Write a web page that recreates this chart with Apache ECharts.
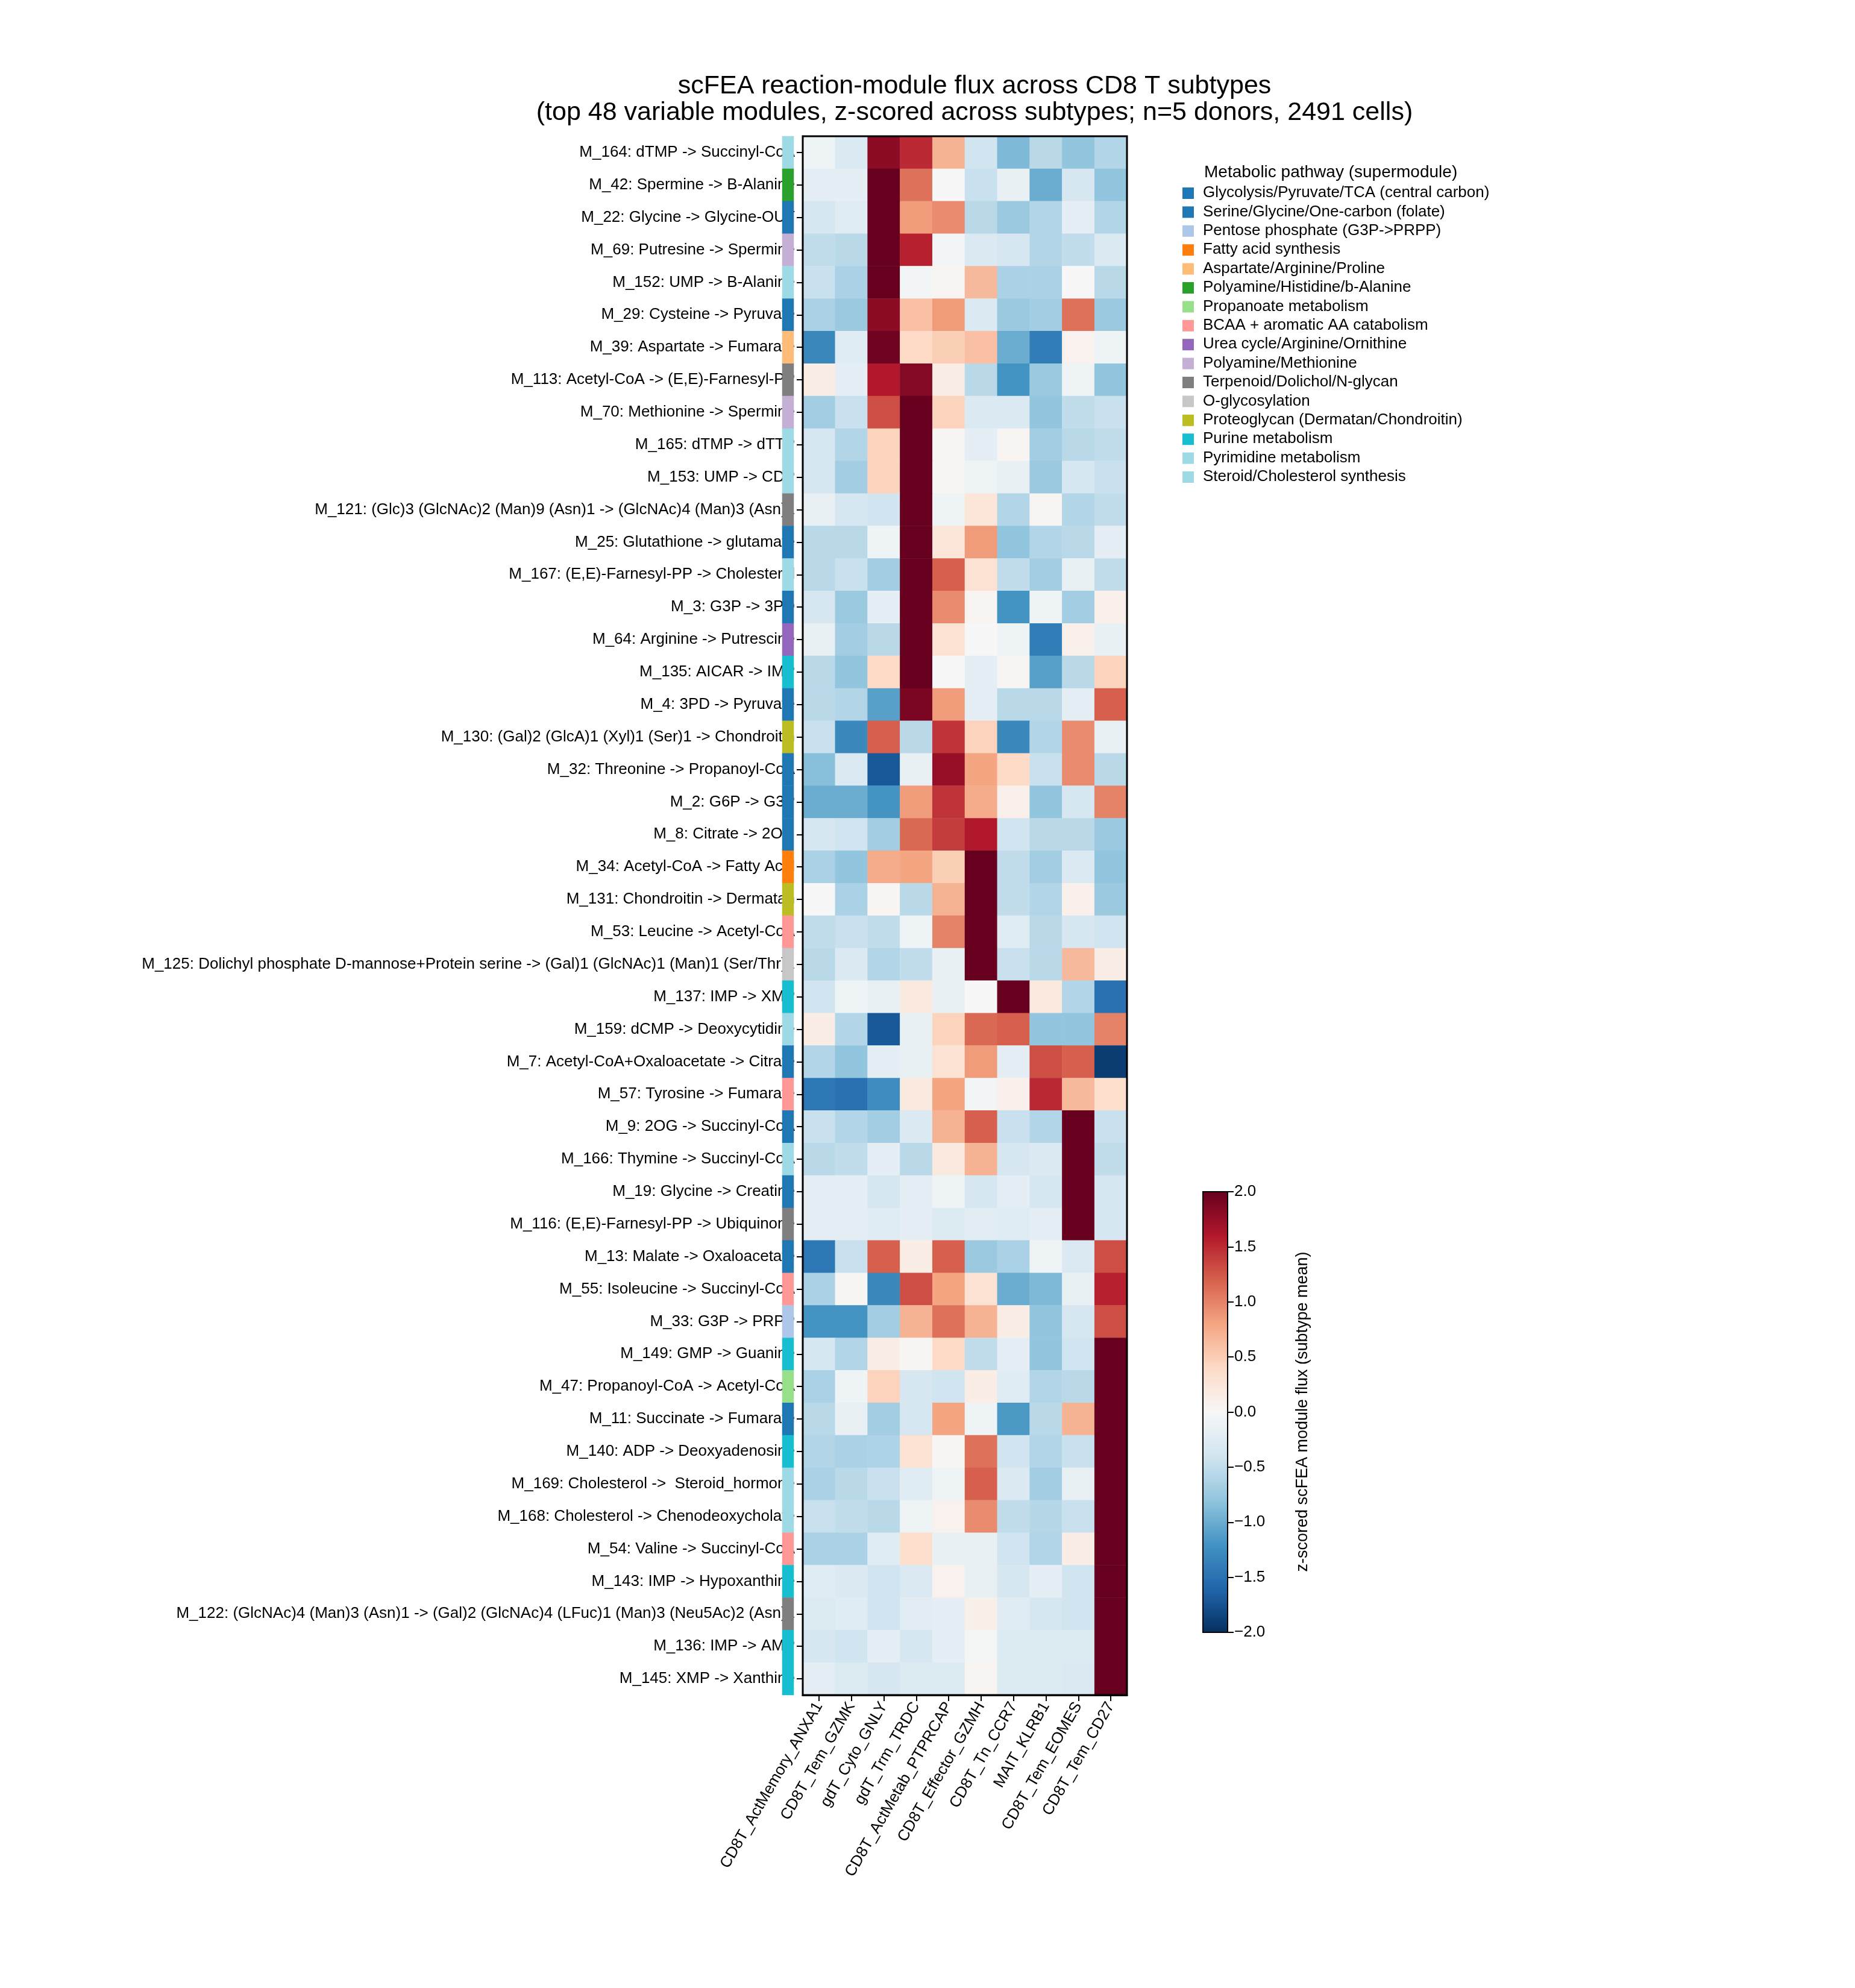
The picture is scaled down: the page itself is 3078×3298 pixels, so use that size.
<!DOCTYPE html>
<html>
<head>
<meta charset="utf-8">
<script src="https://cdn.jsdelivr.net/npm/echarts@6/dist/echarts.min.js"></script>
<style>html,body{margin:0;background:#fff}#c{width:3078px;height:3298px}</style>
</head>
<body>
<div id="c"></div>
<script>
// subtypes (columns)
var subtypes = ['CD8T_ActMemory_ANXA1', 'CD8T_Tem_GZMK', 'gdT_Cyto_GNLY', 'gdT_Trm_TRDC', 'CD8T_ActMetab_PTPRCAP',
  'CD8T_Effector_GZMH', 'CD8T_Tn_CCR7', 'MAIT_KLRB1', 'CD8T_Tem_EOMES', 'CD8T_Tem_CD27'];

// modules (rows, top to bottom)
var modules = [
  'M_164: dTMP -> Succinyl-CoA', 'M_42: Spermine -> B-Alanine', 'M_22: Glycine -> Glycine-OUT',
  'M_69: Putresine -> Spermine', 'M_152: UMP -> B-Alanine', 'M_29: Cysteine -> Pyruvate',
  'M_39: Aspartate -> Fumarate', 'M_113: Acetyl-CoA -> (E,E)-Farnesyl-PP', 'M_70: Methionine -> Spermine',
  'M_165: dTMP -> dTTP', 'M_153: UMP -> CDP', 'M_121: (Glc)3 (GlcNAc)2 (Man)9 (Asn)1 -> (GlcNAc)4 (Man)3 (Asn)1',
  'M_25: Glutathione -> glutamate', 'M_167: (E,E)-Farnesyl-PP -> Cholesterol', 'M_3: G3P -> 3PD',
  'M_64: Arginine -> Putrescine', 'M_135: AICAR -> IMP', 'M_4: 3PD -> Pyruvate',
  'M_130: (Gal)2 (GlcA)1 (Xyl)1 (Ser)1 -> Chondroitin', 'M_32: Threonine -> Propanoyl-CoA', 'M_2: G6P -> G3P',
  'M_8: Citrate -> 2OG', 'M_34: Acetyl-CoA -> Fatty Acid', 'M_131: Chondroitin -> Dermatan',
  'M_53: Leucine -> Acetyl-CoA', 'M_125: Dolichyl phosphate D-mannose+Protein serine -> (Gal)1 (GlcNAc)1 (Man)1 (Ser/Thr)1',
  'M_137: IMP -> XMP', 'M_159: dCMP -> Deoxycytidine', 'M_7: Acetyl-CoA+Oxaloacetate -> Citrate',
  'M_57: Tyrosine -> Fumarate', 'M_9: 2OG -> Succinyl-CoA', 'M_166: Thymine -> Succinyl-CoA',
  'M_19: Glycine -> Creatine', 'M_116: (E,E)-Farnesyl-PP -> Ubiquinone', 'M_13: Malate -> Oxaloacetate',
  'M_55: Isoleucine -> Succinyl-CoA', 'M_33: G3P -> PRPP', 'M_149: GMP -> Guanine',
  'M_47: Propanoyl-CoA -> Acetyl-CoA', 'M_11: Succinate -> Fumarate', 'M_140: ADP -> Deoxyadenosine',
  'M_169: Cholesterol ->  Steroid_hormone', 'M_168: Cholesterol -> Chenodeoxycholate', 'M_54: Valine -> Succinyl-CoA',
  'M_143: IMP -> Hypoxanthine', 'M_122: (GlcNAc)4 (Man)3 (Asn)1 -> (Gal)2 (GlcNAc)4 (LFuc)1 (Man)3 (Neu5Ac)2 (Asn)1',
  'M_136: IMP -> AMP', 'M_145: XMP -> Xanthine'
];

// z-scores, one row per module
var zvals = [
  [-0.1, -0.3, 1.8, 1.5, 0.7, -0.4, -0.9, -0.55, -0.8, -0.6],
  [-0.2, -0.2, 2, 1.1, 0, -0.45, -0.15, -1.0, -0.35, -0.8],
  [-0.35, -0.25, 2, 0.85, 0.95, -0.55, -0.75, -0.6, -0.2, -0.6],
  [-0.5, -0.55, 2, 1.55, -0.05, -0.3, -0.35, -0.6, -0.5, -0.3],
  [-0.45, -0.65, 2, -0.05, 0.05, 0.65, -0.65, -0.65, 0, -0.55],
  [-0.65, -0.75, 1.8, 0.6, 0.85, -0.3, -0.75, -0.7, 1.1, -0.75],
  [-1.3, -0.25, 1.95, 0.4, 0.5, 0.6, -1.0, -1.4, 0.08, -0.1],
  [0.15, -0.2, 1.6, 1.85, 0.15, -0.55, -1.2, -0.75, -0.1, -0.8],
  [-0.7, -0.45, 1.3, 2, 0.45, -0.3, -0.3, -0.8, -0.5, -0.45],
  [-0.35, -0.6, 0.45, 2, 0.05, -0.2, 0.05, -0.7, -0.55, -0.5],
  [-0.35, -0.7, 0.45, 2, 0.05, -0.1, -0.15, -0.75, -0.35, -0.45],
  [-0.15, -0.35, -0.4, 2, -0.1, 0.25, -0.6, 0.05, -0.6, -0.5],
  [-0.55, -0.55, -0.1, 2, 0.25, 0.85, -0.8, -0.6, -0.55, -0.2],
  [-0.55, -0.45, -0.7, 2, 1.2, 0.3, -0.5, -0.7, -0.15, -0.5],
  [-0.35, -0.75, -0.2, 2, 0.95, 0.05, -1.2, -0.1, -0.7, 0.1],
  [-0.15, -0.7, -0.55, 2, 0.3, 0, -0.1, -1.4, 0.1, -0.15],
  [-0.55, -0.8, 0.4, 2, 0, -0.2, 0.03, -1.1, -0.55, 0.45],
  [-0.55, -0.6, -1.1, 1.9, 0.85, -0.2, -0.55, -0.55, -0.2, 1.2],
  [-0.45, -1.3, 1.2, -0.55, 1.45, 0.45, -1.3, -0.6, 0.95, -0.15],
  [-0.85, -0.3, -1.7, -0.15, 1.75, 0.8, 0.4, -0.45, 0.95, -0.55],
  [-1.0, -1.0, -1.2, 0.85, 1.45, 0.75, 0.1, -0.8, -0.35, 1.0],
  [-0.35, -0.4, -0.7, 1.15, 1.4, 1.6, -0.4, -0.55, -0.55, -0.75],
  [-0.65, -0.8, 0.75, 0.8, 0.5, 2, -0.5, -0.7, -0.3, -0.8],
  [0, -0.65, 0.05, -0.55, 0.7, 2, -0.5, -0.6, 0.1, -0.75],
  [-0.5, -0.45, -0.5, -0.1, 1.0, 2, -0.25, -0.55, -0.35, -0.4],
  [-0.55, -0.3, -0.6, -0.5, -0.15, 2, -0.45, -0.55, 0.65, 0.15],
  [-0.4, -0.1, -0.15, 0.2, -0.15, 0, 2, 0.2, -0.6, -1.5],
  [0.15, -0.6, -1.7, -0.15, 0.45, 1.15, 1.2, -0.8, -0.8, 1.0],
  [-0.6, -0.8, -0.2, -0.15, 0.3, 0.85, -0.2, 1.3, 1.2, -1.9],
  [-1.45, -1.5, -1.25, 0.2, 0.8, -0.05, 0.1, 1.5, 0.65, 0.35],
  [-0.45, -0.6, -0.7, -0.3, 0.7, 1.2, -0.45, -0.6, 2, -0.45],
  [-0.55, -0.5, -0.2, -0.55, 0.2, 0.7, -0.35, -0.3, 2, -0.5],
  [-0.2, -0.2, -0.35, -0.2, -0.1, -0.35, -0.2, -0.35, 2, -0.35],
  [-0.2, -0.2, -0.25, -0.2, -0.28, -0.22, -0.25, -0.2, 2, -0.35],
  [-1.45, -0.45, 1.2, 0.15, 1.2, -0.75, -0.65, -0.1, -0.3, 1.3],
  [-0.65, 0.03, -1.3, 1.3, 0.8, 0.3, -1.0, -0.9, -0.15, 1.55],
  [-1.2, -1.2, -0.7, 0.7, 1.1, 0.7, 0.15, -0.8, -0.35, 1.3],
  [-0.35, -0.6, 0.15, 0.03, 0.4, -0.5, -0.2, -0.8, -0.4, 2],
  [-0.65, -0.1, 0.45, -0.35, -0.4, 0.15, -0.25, -0.6, -0.55, 2],
  [-0.55, -0.15, -0.7, -0.35, 0.8, -0.1, -1.15, -0.55, 0.7, 2],
  [-0.6, -0.65, -0.62, 0.3, 0.05, 1.1, -0.4, -0.6, -0.45, 2],
  [-0.65, -0.55, -0.45, -0.25, -0.1, 1.2, -0.3, -0.7, -0.15, 2],
  [-0.45, -0.5, -0.55, -0.1, 0.08, 0.95, -0.5, -0.58, -0.45, 2],
  [-0.65, -0.65, -0.25, 0.35, -0.15, -0.15, -0.4, -0.6, 0.15, 2],
  [-0.25, -0.3, -0.4, -0.3, 0.08, -0.15, -0.35, -0.2, -0.4, 2],
  [-0.28, -0.25, -0.4, -0.22, -0.2, 0.12, -0.25, -0.35, -0.4, 2],
  [-0.35, -0.4, -0.2, -0.35, -0.2, -0.03, -0.28, -0.28, -0.28, 2],
  [-0.2, -0.28, -0.35, -0.28, -0.28, 0.05, -0.28, -0.28, -0.3, 2]
];

// pathway legend
var pathways = ['Glycolysis/Pyruvate/TCA (central carbon)', 'Serine/Glycine/One-carbon (folate)', 'Pentose phosphate (G3P->PRPP)',
  'Fatty acid synthesis', 'Aspartate/Arginine/Proline', 'Polyamine/Histidine/b-Alanine', 'Propanoate metabolism',
  'BCAA + aromatic AA catabolism', 'Urea cycle/Arginine/Ornithine', 'Polyamine/Methionine', 'Terpenoid/Dolichol/N-glycan',
  'O-glycosylation', 'Proteoglycan (Dermatan/Chondroitin)', 'Purine metabolism', 'Pyrimidine metabolism', 'Steroid/Cholesterol synthesis'];
var pathwayColors = ['#1f77b4', '#1f77b4', '#aec7e8', '#ff7f0e', '#ffbb78', '#2ca02c', '#98df8a', '#ff9896', '#9467bd',
  '#c5b0d5', '#7f7f7f', '#c7c7c7', '#bcbd22', '#17becf', '#9edae5', '#9edae5'];
// pathway index for each module row
var modulePathway = [14, 5, 1, 9, 14, 1, 4, 10, 9, 14, 14, 10, 1, 15, 1, 8, 13, 1, 12, 1, 0, 0, 3, 12,
  7, 11, 13, 14, 0, 7, 0, 14, 1, 10, 0, 7, 2, 13, 6, 0, 13, 15, 15, 7, 13, 10, 13, 13];

var cbTicks = [-2, -1.5, -1, -0.5, 0, 0.5, 1, 1.5, 2];

var heat = [];
zvals.forEach(function (row, r) {
  row.forEach(function (v, c) { heat.push([c, r, v]); });
});
var strip = modulePathway.map(function (p, r) {
  return { value: [0, r, p], itemStyle: { color: pathwayColors[p] } };
});

var F = 'Liberation Sans, Arial, sans-serif';
var gLeft = 1332, gTop = 226, gW = 538, gH = 2586;

var legendGraphics = [{
  type: 'text', left: 1998, top: 272,
  style: { text: 'Metabolic pathway (supermodule)', fontSize: 28, fontFamily: F, fill: '#000' }
}];
pathways.forEach(function (name, i) {
  var y = 311 + i * 31.4;
  legendGraphics.push({ type: 'rect', shape: { x: 1962, y: y, width: 19, height: 19 }, style: { fill: pathwayColors[i] } });
  legendGraphics.push({ type: 'text', left: 1996, top: y - 4, style: { text: name, fontSize: 26, fontFamily: F, fill: '#000' } });
});
legendGraphics.push({
  type: 'text', x: 2162, y: 2342, rotation: Math.PI / 2,
  style: { text: 'z-scored scFEA module flux (subtype mean)', fontSize: 27, fontFamily: F, fill: '#000', align: 'center', verticalAlign: 'middle' }
});

var chart = echarts.init(document.getElementById('c'));
chart.setOption({
  backgroundColor: '#fff',
  animation: false,
  title: {
    text: 'scFEA reaction-module flux across CD8 T subtypes\n(top 48 variable modules, z-scored across subtypes; n=5 donors, 2491 cells)',
    left: 1612, top: 116, textAlign: 'center',
    textStyle: { fontSize: 43, fontWeight: 'normal', fontFamily: F, color: '#000', lineHeight: 44 }
  },
  grid: [
    { left: gLeft, top: gTop, width: gW, height: gH, show: true, borderColor: '#000', borderWidth: 3, z: 3 },
    { left: 1298, top: gTop, width: 19, height: gH },
    { left: 2037, top: 1977, width: 1, height: 731 }
  ],
  xAxis: [
    { type: 'category', data: subtypes, gridIndex: 0, position: 'bottom',
      axisLine: { show: true, lineStyle: { color: '#000', width: 3 } },
      axisTick: { show: true, length: 10, lineStyle: { color: '#000', width: 2 }, alignWithLabel: true },
      axisLabel: { rotate: 60, fontSize: 26, fontFamily: F, color: '#000', margin: 14, interval: 0 },
      splitLine: { show: false } },
    { type: 'category', data: ['p'], gridIndex: 1, show: false },
    { type: 'value', gridIndex: 2, show: false }
  ],
  yAxis: [
    { type: 'category', data: modules, gridIndex: 0, inverse: true,
      axisLine: { show: true, lineStyle: { color: '#000', width: 3 } },
      axisTick: { show: true, length: 10, lineStyle: { color: '#000', width: 2 }, alignWithLabel: true },
      axisLabel: { fontSize: 26, fontFamily: F, color: '#000', margin: 13, interval: 0 },
      splitLine: { show: false } },
    { type: 'category', data: modules, gridIndex: 1, inverse: true, show: false },
    { type: 'value', gridIndex: 2, min: -2, max: 2, interval: 0.5, position: 'right',
      axisLine: { show: false },
      axisTick: { show: true, length: 10, lineStyle: { color: '#000', width: 2 } },
      axisLabel: { fontSize: 26, fontFamily: F, color: '#000', margin: 10,
        formatter: function (v) { return (v < 0 ? '\u2212' : '') + Math.abs(v).toFixed(1); } },
      splitLine: { show: false } }
  ],
  visualMap: {
    type: 'continuous', min: -2, max: 2, seriesIndex: 0, calculable: false, padding: 0,
    left: 1996, top: 1977, itemWidth: 41, itemHeight: 731, text: null, showLabel: false,
    inRange: { color: ['#053061', '#2166ac', '#4393c3', '#92c5de', '#d1e5f0', '#f7f7f7', '#fddbc7', '#f4a582', '#d6604d', '#b2182b', '#67001f'] }
  },
  graphic: legendGraphics.concat([
    { type: 'rect', shape: { x: 1996, y: 1977, width: 41, height: 731 }, style: { fill: null, stroke: '#000', lineWidth: 2 }, z: 100 }
  ]),
  series: [
    { type: 'heatmap', xAxisIndex: 0, yAxisIndex: 0, data: heat, z: 2 },
    { type: 'heatmap', xAxisIndex: 1, yAxisIndex: 1, data: strip, z: 5 },
    { type: 'scatter', xAxisIndex: 2, yAxisIndex: 2, data: cbTicks.map(function (t) { return [0, t]; }), symbolSize: 0, silent: true }
  ]
});
</script>
</body>
</html>
